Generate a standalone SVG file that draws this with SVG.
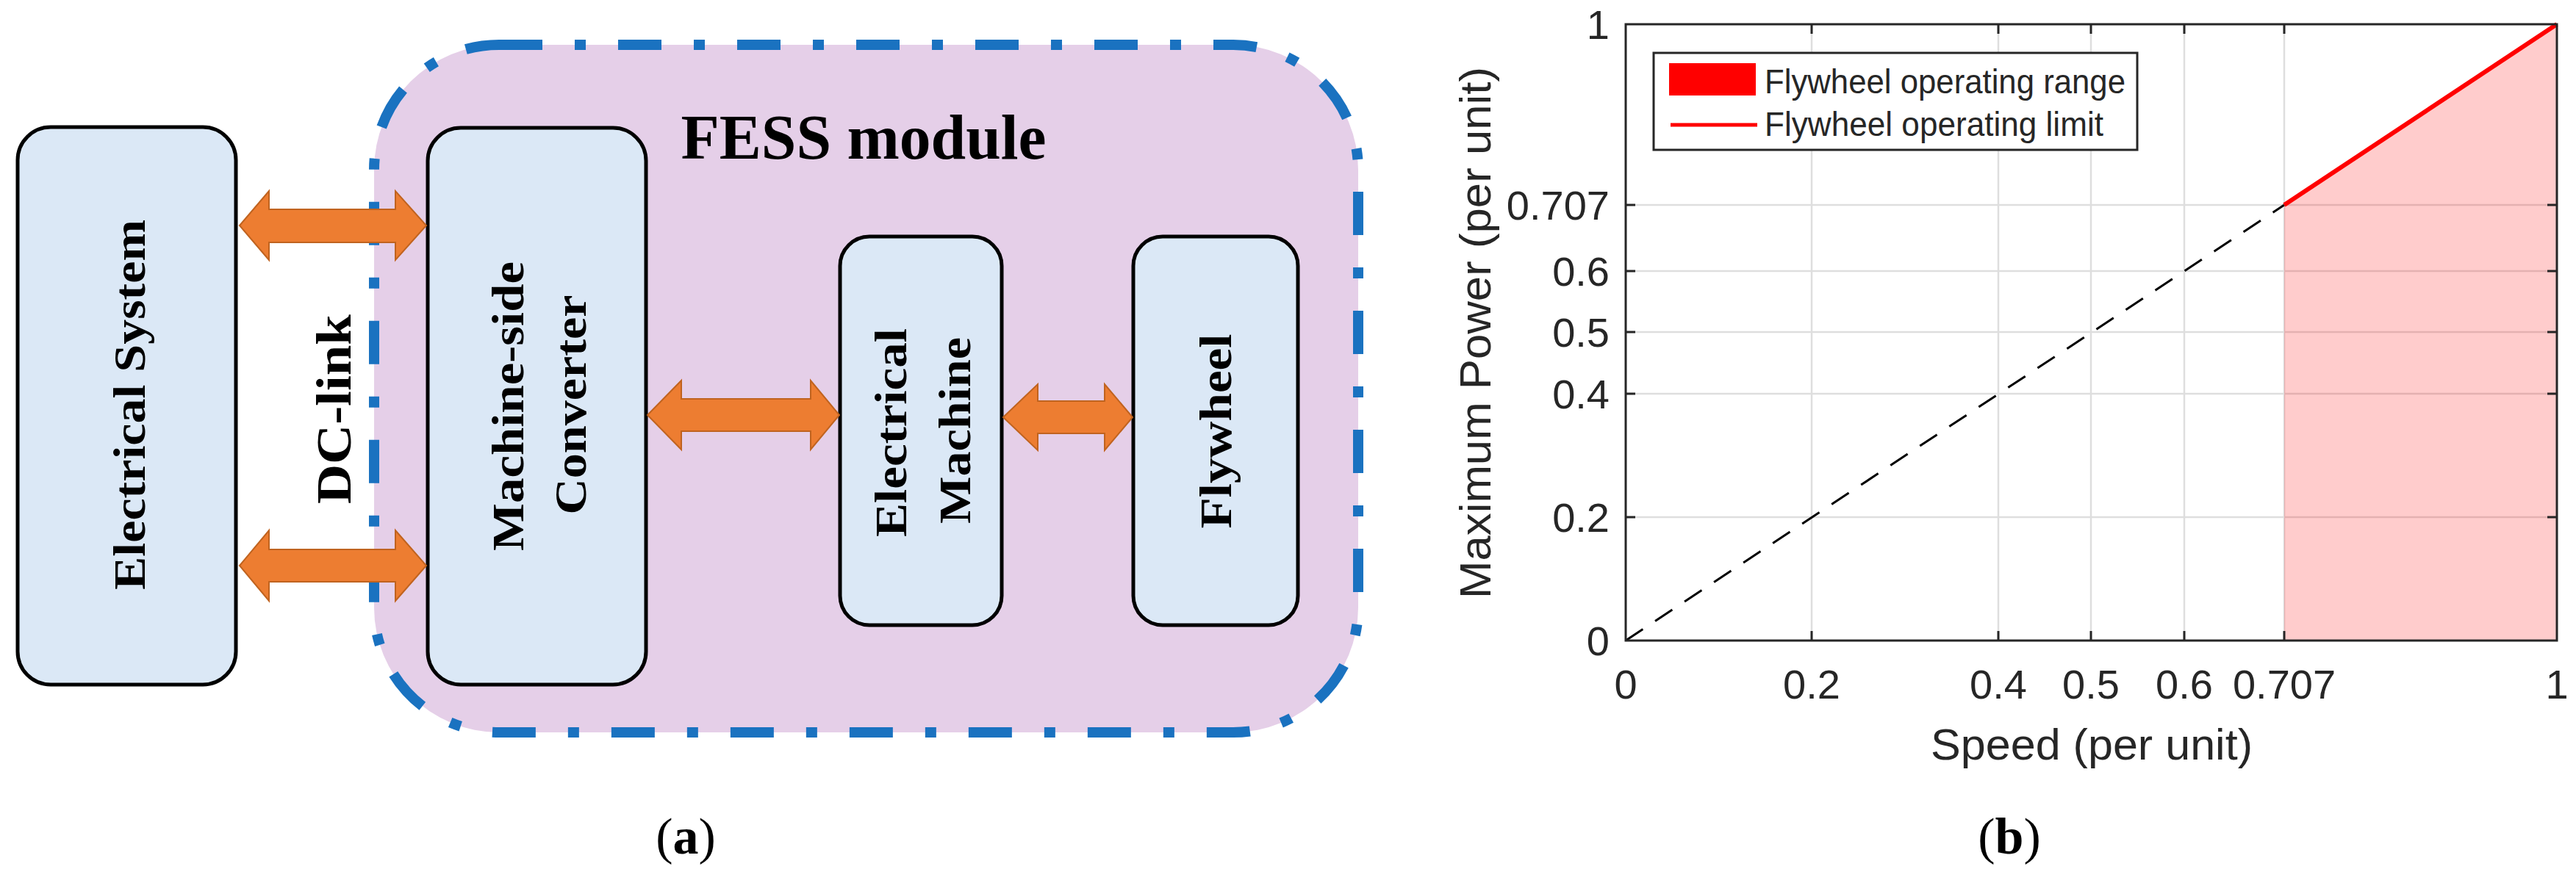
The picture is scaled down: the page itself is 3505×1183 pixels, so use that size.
<svg xmlns="http://www.w3.org/2000/svg" width="3505" height="1183" viewBox="0 0 3505 1183">
<style>
.box{fill:#dbe8f6;stroke:#000;stroke-width:5}
.bt{font-family:"Liberation Serif",serif;font-weight:bold;fill:#000}
.arr{fill:#ed7d31;stroke:#c0631f;stroke-width:2}
.ax{font-family:"Liberation Sans",Arial,sans-serif;fill:#262626}
.grid{stroke:#dedede;stroke-width:2.5}
.tk{stroke:#262626;stroke-width:3}
</style>
<rect width="3505" height="1183" fill="#fff"/>
<g id="fess">
<rect x="509" y="61" width="1339" height="936" rx="170" fill="#e5cfe8" stroke="#1a72c0" stroke-width="14" stroke-dasharray="59 44 15 44"/>
<text class="bt" x="1175" y="216" font-size="86" text-anchor="middle" textLength="497" lengthAdjust="spacingAndGlyphs">FESS module</text>
</g>
<g id="electrical-system">
<rect class="box" x="24" y="173" width="297" height="759" rx="45"/>
<text class="bt" transform="translate(197,551) rotate(-90)" font-size="62" text-anchor="middle" textLength="504" lengthAdjust="spacingAndGlyphs">Electrical System</text>
</g>
<g id="dc-link">
<text class="bt" transform="translate(477,557) rotate(-90)" font-size="68" text-anchor="middle" textLength="258" lengthAdjust="spacingAndGlyphs">DC-link</text>
</g>
<g id="converter">
<rect class="box" x="582" y="174" width="297" height="758" rx="45"/>
<text class="bt" transform="translate(712,553) rotate(-90)" font-size="62" text-anchor="middle" textLength="394" lengthAdjust="spacingAndGlyphs">Machine-side</text>
<text class="bt" transform="translate(797,551) rotate(-90)" font-size="62" text-anchor="middle" textLength="299" lengthAdjust="spacingAndGlyphs">Converter</text>
</g>
<g id="machine">
<rect class="box" x="1143" y="322" width="220" height="529" rx="40"/>
<text class="bt" transform="translate(1233,589) rotate(-90)" font-size="62" text-anchor="middle" textLength="284" lengthAdjust="spacingAndGlyphs">Electrical</text>
<text class="bt" transform="translate(1320,586) rotate(-90)" font-size="62" text-anchor="middle" textLength="254" lengthAdjust="spacingAndGlyphs">Machine</text>
</g>
<g id="flywheel">
<rect class="box" x="1542" y="322" width="224" height="529" rx="40"/>
<text class="bt" transform="translate(1675,587) rotate(-90)" font-size="62" text-anchor="middle" textLength="265" lengthAdjust="spacingAndGlyphs">Flywheel</text>
</g>
<g id="connectors">
<polygon class="arr" points="326,307 366,260 366,285 538,285 538,260 580,307 538,354 538,330 366,330 366,354"/>
<polygon class="arr" points="326,770 366,722 366,748 538,748 538,722 580,770 538,818 538,792 366,792 366,818"/>
<polygon class="arr" points="881,565 927,518 927,543 1103,543 1103,518 1142,565 1103,612 1103,587 927,587 927,612"/>
<polygon class="arr" points="1365,568 1412,523 1412,546 1503,546 1503,523 1541,568 1503,613 1503,590 1412,590 1412,613"/>
</g>
<text x="933" y="1162" font-family="Liberation Serif,serif" font-size="70" text-anchor="middle">(<tspan font-weight="bold">a</tspan>)</text>

<g id="chart">
<g class="grid">
<line x1="2465" y1="33" x2="2465" y2="872"/><line x1="2719" y1="33" x2="2719" y2="872"/><line x1="2845" y1="33" x2="2845" y2="872"/><line x1="2972" y1="33" x2="2972" y2="872"/><line x1="3108" y1="33" x2="3108" y2="872"/>
<line x1="2212" y1="704" x2="3479" y2="704"/><line x1="2212" y1="536" x2="3479" y2="536"/><line x1="2212" y1="452" x2="3479" y2="452"/><line x1="2212" y1="369" x2="3479" y2="369"/><line x1="2212" y1="279" x2="3479" y2="279"/>
</g>
<polygon points="3108,279 3479,33 3479,872 3108,872" fill="#ff0000" fill-opacity="0.2"/>
<line x1="2212" y1="872" x2="3108" y2="279" stroke="#000" stroke-width="3" stroke-dasharray="28 20"/>
<line x1="3108" y1="279" x2="3479" y2="33" stroke="#ff0000" stroke-width="6"/>
<rect x="2212" y="33" width="1267" height="839" fill="none" stroke="#262626" stroke-width="3"/>
<g class="tk">
<path d="M2465,872v-13M2719,872v-13M2845,872v-13M2972,872v-13M3108,872v-13M2465,33v13M2719,33v13M2845,33v13M2972,33v13M3108,33v13"/>
<path d="M2212,704h13M2212,536h13M2212,452h13M2212,369h13M2212,279h13M3479,704h-13M3479,536h-13M3479,452h-13M3479,369h-13M3479,279h-13"/>
</g>
<g class="ax" font-size="56" text-anchor="middle">
<text x="2212" y="951">0</text><text x="2465" y="951">0.2</text><text x="2719" y="951">0.4</text><text x="2845" y="951">0.5</text><text x="2972" y="951">0.6</text><text x="3108" y="951">0.707</text><text x="3479" y="951">1</text>
</g>
<g class="ax" font-size="56" text-anchor="end">
<text x="2190" y="892">0</text><text x="2190" y="724">0.2</text><text x="2190" y="556">0.4</text><text x="2190" y="472">0.5</text><text x="2190" y="389">0.6</text><text x="2190" y="299">0.707</text><text x="2190" y="53">1</text>
</g>
<text class="ax" x="2846" y="1034" font-size="60" text-anchor="middle" textLength="438" lengthAdjust="spacingAndGlyphs">Speed (per unit)</text>
<text class="ax" transform="translate(2028,453) rotate(-90)" font-size="60" text-anchor="middle" textLength="724" lengthAdjust="spacingAndGlyphs">Maximum Power (per unit)</text>
<g id="legend">
<rect x="2250" y="72" width="658" height="132" fill="#fff" stroke="#262626" stroke-width="3"/>
<rect x="2271" y="86" width="118" height="44" fill="#ff0000"/>
<line x1="2273" y1="170" x2="2391" y2="170" stroke="#ff0000" stroke-width="5"/>
<text class="ax" x="2401" y="127" font-size="46" fill="#000" textLength="491" lengthAdjust="spacingAndGlyphs">Flywheel operating range</text>
<text class="ax" x="2401" y="185" font-size="46" fill="#000" textLength="461" lengthAdjust="spacingAndGlyphs">Flywheel operating limit</text>
</g>
</g>
<text x="2734" y="1162" font-family="Liberation Serif,serif" font-size="70" text-anchor="middle">(<tspan font-weight="bold">b</tspan>)</text>
</svg>
